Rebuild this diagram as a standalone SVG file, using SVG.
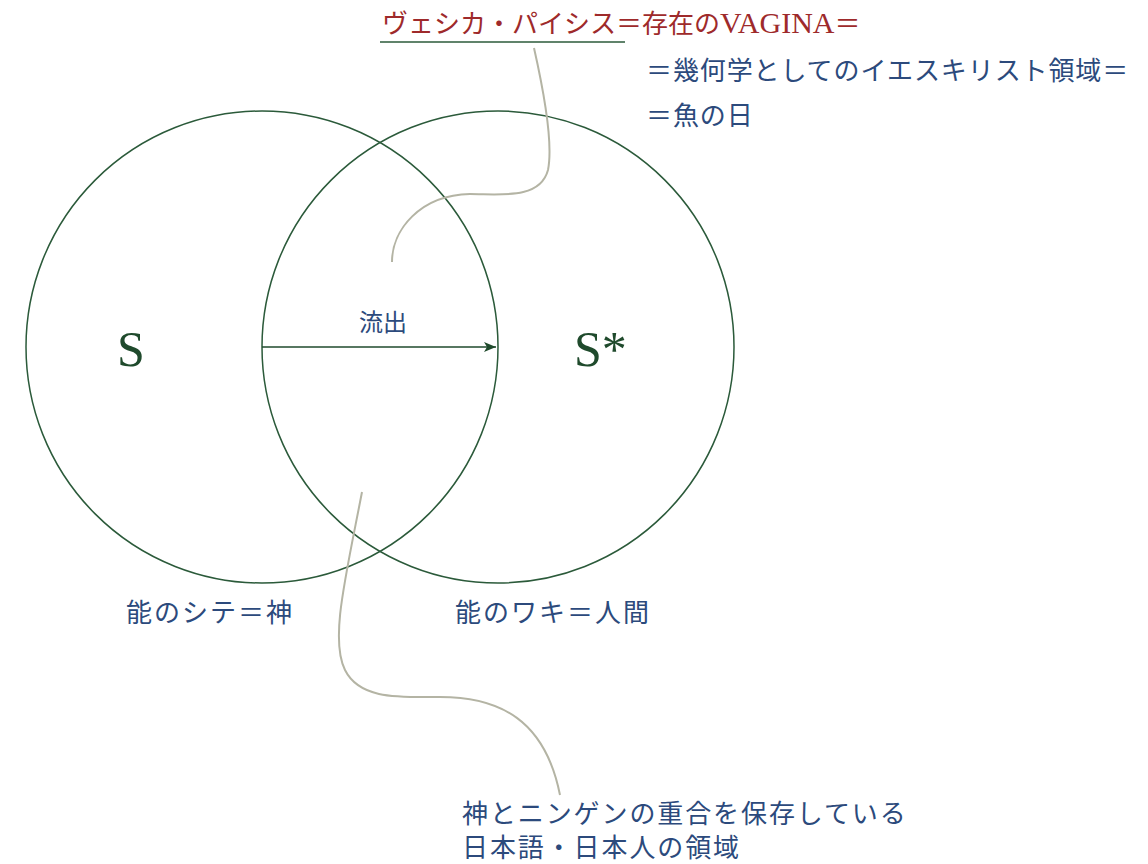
<svg xmlns="http://www.w3.org/2000/svg" width="1148" height="864" viewBox="0 0 1148 864">
<style>
.c{fill:none;stroke:#2b5a3a;stroke-width:1.5}
.lead{fill:none;stroke:#b4b4a4;stroke-width:2}
.t{font-family:"Liberation Serif","Noto Sans CJK JP",serif;fill:#2c4a7c}
.r{fill:#9e2a2b}
.s{font-family:"Liberation Serif",serif;fill:#1f4a2c;font-size:50px}
</style>
<defs>
<marker id="ah" viewBox="0 0 12 10" refX="12" refY="5" markerWidth="12" markerHeight="10" markerUnits="userSpaceOnUse" orient="auto">
<path d="M0,0 L12,5 L0,10 L3,5 Z" fill="#1f4a2c"/>
</marker>
</defs>
<rect width="1148" height="864" fill="#ffffff"/>
<g id="circleS"><circle class="c" cx="262" cy="347" r="236"/><text class="s" x="117" y="366">S</text></g>
<g id="circleS2"><circle class="c" cx="498" cy="347" r="236"/><text class="s" x="574" y="366">S*</text></g>
<g id="connectors">
<line x1="262" y1="347" x2="496" y2="347" stroke="#1f4a2c" stroke-width="1.5" marker-end="url(#ah)"/>
<path class="lead" d="M534,48 C548,110 552,150 548,170 C540,200 500,194 470,194 C420,195 392,230 392,262"/>
<path class="lead" d="M362,492 C345,580 330,640 345,670 C360,700 400,697 440,697 C500,697 545,720 560,795"/>
</g>
<g id="flow"><text class="t" x="383" y="331" font-size="24" text-anchor="middle">流出</text></g>
<g id="vesica">
<text class="t r" x="382" y="33" font-size="26">ヴェシカ・パイシス＝存在の<tspan font-size="30">VAGINA</tspan>＝</text>
<line x1="380" y1="42" x2="625" y2="42" stroke="#2b5a3a" stroke-width="1.5"/>
<text class="t" x="646" y="80" font-size="26" letter-spacing="0.9">＝幾何学としてのイエスキリスト領域＝</text>
<text class="t" x="646" y="125" font-size="26" letter-spacing="0.9">＝魚の日</text>
</g>
<g id="shite"><text class="t" x="126" y="622" font-size="26" letter-spacing="2">能のシテ＝神</text></g>
<g id="waki"><text class="t" x="455" y="622" font-size="26" letter-spacing="2">能のワキ＝人間</text></g>
<g id="overlap">
<text class="t" x="462" y="823" font-size="26" letter-spacing="1.9">神とニンゲンの重合を保存している</text>
<text class="t" x="462" y="857" font-size="26" letter-spacing="1.9">日本語・日本人の領域</text>
</g>
</svg>
